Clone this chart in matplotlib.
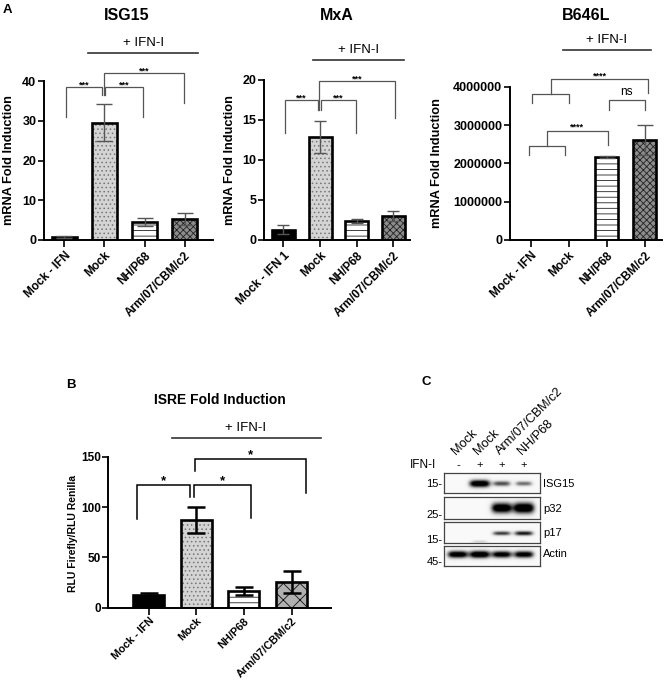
import matplotlib
matplotlib.use('Agg')
import matplotlib.pyplot as plt
from matplotlib import ticker, transforms
import numpy as np

plt.rcParams['font.family'] = ['Liberation Sans', 'DejaVu Sans']
plt.rcParams['font.weight'] = 'bold'
plt.rcParams['hatch.linewidth'] = 0.6

W, H = 666, 683

# ---- data ----
groups = ['Mock - IFN', 'Mock', 'NH/P68', 'Arm/07/CBM/c2']
groups_mxa = ['Mock - IFN 1', 'Mock', 'NH/P68', 'Arm/07/CBM/c2']

isg15_mean = [0.7, 29.5, 4.6, 5.2]
isg15_err = [0.2, 4.7, 1.0, 1.5]
mxa_mean = [1.3, 12.9, 2.4, 3.0]
mxa_err = [0.6, 2.0, 0.25, 0.65]
b646l_mean = [0, 0, 2160000, 2610000]
b646l_err = [0, 0, 30000, 380000]
isre_mean = [12.3, 86.8, 16.3, 25.7]
isre_err = [2.0, 13.0, 4.0, 11.0]

blot_lanes = ['Mock', 'Mock', 'Arm/07/CBM/c2', 'NH/P68']
blot_ifn = ['-', '+', '+', '+']
blot_proteins = ['ISG15', 'p32', 'p17', 'Actin']
blot_markers = ['15-', '25-', '15-', '45-']
blot_signal = [[0.0, 1.0, 0.6, 0.5],
               [0.0, 0.0, 1.0, 1.05],
               [0.0, 0.2, 0.65, 0.75],
               [0.95, 1.0, 0.9, 0.9]]

# significance brackets: (x1, x2, top, left_end, right_end, label)
isg15_brackets = [(0.05, 0.94, 38.4, 30.9, 36.5, '***'),
                  (1.02, 1.96, 38.4, 36.5, 30.9, '***'),
                  (0.99, 2.99, 41.9, 36.5, 34.5, '***')]
mxa_brackets = [(0.03, 0.93, 17.5, 13.4, 16.3, '***'),
                (1.02, 1.97, 17.5, 16.3, 13.4, '***'),
                (0.97, 3.04, 19.9, 16.3, 15.2, '***')]
isre_brackets = [(-0.24, 0.87, 121.8, 87.8, 109.6, '*'),
                 (0.96, 2.14, 121.8, 109.6, 88.8, '*'),
                 (0.97, 3.30, 147.7, 136.0, 114.2, '*')]

fills_a = [dict(fc='black', hatch=None, hc='black'),
           dict(fc='#d4d4d4', hatch='....', hc='#777777'),
           dict(fc='white', hatch='---', hc='#222222'),
           dict(fc='#8c8c8c', hatch='xxxxx', hc='#222222')]
fills_b = [dict(fc='black', hatch=None, hc='black'),
           dict(fc='#d4d4d4', hatch='....', hc='#777777'),
           dict(fc='white', hatch='---', hc='#222222'),
           dict(fc='#b0b0b0', hatch='xx', hc='#111111')]

fig = plt.figure(figsize=(W / 100, H / 100), dpi=100)


def px_axes(x0, y0, x1, y1):
    return fig.add_axes([x0 / W, 1 - y1 / H, (x1 - x0) / W, (y1 - y0) / H])


def ftext(x, y, s, **kw):
    fig.text(x / W, 1 - y / H, s, **kw)


def draw_bars(ax, means, errs, width, fills, ecolor, cap, elw):
    x = np.arange(len(means))
    for i in range(len(means)):
        f = fills[i]
        ax.bar(x[i], means[i], width, color=f['fc'], edgecolor=f['hc'],
               hatch=f['hatch'], linewidth=0, zorder=2)
        ax.bar(x[i], means[i], width, facecolor='none', edgecolor='black',
               linewidth=1.9, zorder=3)
    keep = [i for i in range(len(means)) if means[i] > 0]
    ax.errorbar(x[keep], np.array(means)[keep], yerr=np.array(errs)[keep],
                fmt='none', ecolor=ecolor, elinewidth=elw, capsize=cap,
                capthick=elw, zorder=4)


def style_axes(ax, labels, xlim, ylim, yticks, fs_x=8.5, fs_y=9):
    ax.set_xlim(*xlim)
    ax.set_ylim(*ylim)
    ax.set_yticks(yticks)
    ax.set_xticks(range(len(labels)))
    ax.set_xticklabels(labels, rotation=45, ha='right', va='top',
                       rotation_mode='anchor', fontsize=fs_x)
    for s in ['top', 'right']:
        ax.spines[s].set_visible(False)
    for s in ['left', 'bottom']:
        ax.spines[s].set_linewidth(1.4)
    ax.tick_params(axis='y', direction='out', length=4, width=1.2,
                   labelsize=fs_y, pad=1.5)
    ax.tick_params(axis='x', direction='out', length=5, width=1.2, pad=2)


def brackets(ax, specs, fs, color='#555555', lw=0.9, dy=0.0):
    for x1, x2, top, e1, e2, lab in specs:
        ax.plot([x1, x1, x2, x2], [e1, top, top, e2], color=color, lw=lw,
                clip_on=False, solid_joinstyle='miter')
        ax.text((x1 + x2) / 2, top + dy, lab, ha='center', va='bottom',
                fontsize=fs, clip_on=False)


def ifn_line(ax, x1, x2, y, dy):
    ax.plot([x1, x2], [y, y], color='#333333', lw=1.2, clip_on=False)
    ax.text((x1 + x2) / 2, y + dy, '+ IFN-I', ha='center', va='bottom',
            fontsize=9.5, fontweight='normal', clip_on=False)


# ---- panel A: ISG15 ----
ax1 = px_axes(44, 81, 213, 240)
draw_bars(ax1, isg15_mean, isg15_err, 0.62, fills_a, '#555555', 5.5, 1.0)
style_axes(ax1, groups, (-0.51, 3.71), (0, 40), [0, 10, 20, 30, 40])
brackets(ax1, isg15_brackets, 6.5, dy=-0.6)
ifn_line(ax1, 0.59, 3.34, 47.1, 1.0)
ftext(127, 16, 'ISG15', ha='center', va='center', fontsize=11.5)
ftext(9, 160, 'mRNA Fold Induction', ha='center', va='center',
      rotation=90, fontsize=9.2)
ftext(3, 10, 'A', ha='left', va='center', fontsize=9.5)

# ---- panel A: MxA ----
ax2 = px_axes(264, 80, 410, 240)
draw_bars(ax2, mxa_mean, mxa_err, 0.63, fills_a, '#555555', 4.5, 1.0)
style_axes(ax2, groups_mxa, (-0.53, 3.45), (0, 20), [0, 5, 10, 15, 20])
brackets(ax2, mxa_brackets, 6.5, dy=-0.3)
ifn_line(ax2, 0.80, 3.30, 22.5, 0.5)
ftext(337, 16, 'MxA', ha='center', va='center', fontsize=11.5)
ftext(230, 160, 'mRNA Fold Induction', ha='center', va='center',
      rotation=90, fontsize=9.2)

# ---- panel A: B646L ----
ax3 = px_axes(510, 86.7, 662, 240)
draw_bars(ax3, b646l_mean, b646l_err, 0.61, fills_a, '#555555', 6, 1.0)
style_axes(ax3, groups, (-0.54, 3.45), (0, 4000000),
           [0, 1000000, 2000000, 3000000, 4000000])
ax3.yaxis.set_major_formatter(ticker.StrMethodFormatter('{x:.0f}'))
g = dict(color='#555555', lw=0.9, clip_on=False)
# upper grouped bracket (Mock - IFN & Mock vs Arm/07/CBM/c2)
ax3.plot([0.05, 0.05, 1.01, 1.01], [3.57e6, 3.80e6, 3.80e6, 3.57e6], **g)
ax3.plot([0.53, 0.53, 3.09, 3.09], [3.80e6, 4.20e6, 4.20e6, 3.83e6], **g)
ax3.text(1.81, 4.17e6, '****', ha='center', va='bottom', fontsize=6.5,
         clip_on=False)
# ns bracket
ax3.plot([2.05, 2.05, 3.0, 3.0], [3.38e6, 3.66e6, 3.66e6, 3.38e6], **g)
ax3.text(2.52, 3.70e6, 'ns', ha='center', va='bottom', fontsize=8.5,
         fontweight='normal', clip_on=False)
# lower grouped bracket (Mock - IFN & Mock vs NH/P68)
ax3.plot([-0.04, -0.04, 0.91, 0.91], [2.22e6, 2.45e6, 2.45e6, 2.22e6], **g)
ax3.plot([0.44, 0.44, 2.02, 2.02], [2.45e6, 2.85e6, 2.85e6, 2.48e6], **g)
ax3.text(1.23, 2.82e6, '****', ha='center', va='bottom', fontsize=6.5,
         clip_on=False)
ifn_line(ax3, 0.84, 3.16, 4.96e6, 0.1e6)
ftext(586, 16, 'B646L', ha='center', va='center', fontsize=11.5)
ftext(437, 163, 'mRNA Fold Induction', ha='center', va='center',
      rotation=90, fontsize=9.2)

# ---- panel B: ISRE ----
ax4 = px_axes(108.3, 456.7, 331, 607.7)
draw_bars(ax4, isre_mean, isre_err, 0.65, fills_b, 'black', 6.5, 1.8)
style_axes(ax4, groups, (-0.85, 3.83), (0, 150), [0, 50, 100, 150],
           fs_x=7.8, fs_y=8.5)
ax4.tick_params(axis='x', pad=1)
brackets(ax4, isre_brackets, 9.5, color='black', lw=1.1, dy=-2.5)
ifn_line(ax4, 0.48, 3.61, 168.2, 4)
ftext(220, 400, 'ISRE Fold Induction', ha='center', va='center', fontsize=10)
ftext(73, 533, 'RLU Firefly/RLU Renilla', ha='center', va='center',
      rotation=90, fontsize=7.5)
ftext(66, 385, 'B', ha='left', va='center', fontsize=9.5)

# ---- panel C: western blot ----
strips = [(473.3, 493.3), (497.3, 519.3), (522.3, 542.7), (545.7, 565.7)]
band_y = [[0.47] * 4, [0.5] * 4, [0.46, 0.06, 0.46, 0.46], [0.58] * 4]
band_t = [0.14, 0.18, 0.1, 0.14]
marker_y = [0.47, 0.2, 0.13, 0.2]
protein_y = [0.47, 0.47, 0.46, 0.58]
xlo, xhi = -0.62, 3.73
blot_axes = []
for k, (y0, y1) in enumerate(strips):
    ax = px_axes(444.3, y0, 540, y1)
    xs = np.linspace(xlo, xhi, 300)
    ys = np.linspace(0, 1, 60)
    X, Y = np.meshgrid(xs, ys)
    img = np.full(X.shape, 0.05)
    for i, s in enumerate(blot_signal[k]):
        if s <= 0:
            continue
        sx = 0.3 + 0.18 * s
        sy = band_t[k] * (0.4 + 1.0 * s)
        img += 1.2 * s * np.exp(-((X - i) / sx) ** 4
                                - ((Y - band_y[k][i]) / sy) ** 2)
    ax.imshow(np.clip(img, 0, 1), cmap='Greys', vmin=0, vmax=1,
              extent=(xlo, xhi, 0, 1), origin='lower', aspect='auto',
              interpolation='bilinear')
    ax.set_xlim(xlo, xhi)
    ax.set_ylim(0, 1)
    ax.set_xticks([])
    ax.set_yticks([])
    for s in ax.spines.values():
        s.set_linewidth(0.9)
        s.set_color('#444444')
    ax.text(-0.02, marker_y[k], blot_markers[k], transform=ax.transAxes,
            ha='right', va='center', fontsize=8, fontweight='normal')
    ax.text(1.03, protein_y[k], blot_proteins[k], transform=ax.transAxes,
            ha='left', va='center', fontsize=8, fontweight='normal')
    blot_axes.append(ax)

top = blot_axes[0]
tr = transforms.blended_transform_factory(top.transData, top.transAxes)
for i, (lane, sign) in enumerate(zip(blot_lanes, blot_ifn)):
    top.text(i, 1.42, sign, transform=tr, ha='center', va='center',
             fontsize=8, fontweight='normal')
    top.text(i, 1.83, lane, transform=tr, ha='left', va='bottom',
             rotation=45, rotation_mode='anchor', fontsize=9.2,
             fontweight='normal')
ftext(436, 465, 'IFN-I', ha='right', va='center', fontsize=8.5,
      fontweight='normal')
ftext(422, 382, 'C', ha='left', va='center', fontsize=9.5)

fig.savefig('out.png', dpi=100)
